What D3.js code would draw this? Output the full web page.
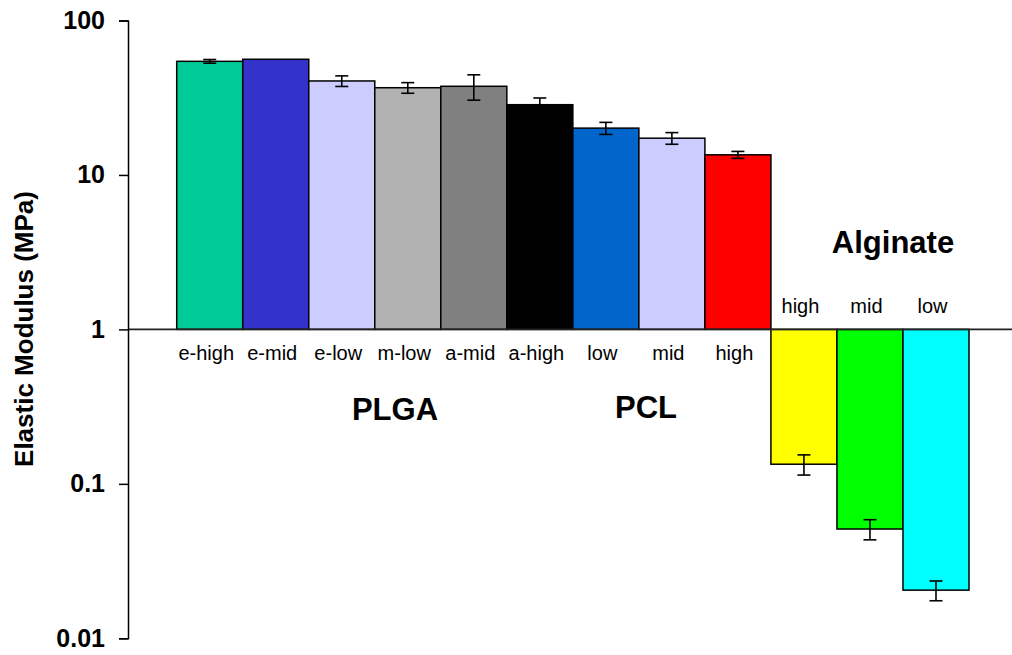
<!DOCTYPE html>
<html>
<head>
<meta charset="utf-8">
<script src="https://cdn.jsdelivr.net/npm/d3@7"></script>
<style>
  html, body { margin: 0; padding: 0; background: #fff; }
  svg { display: block; font-family: Arial, "Liberation Sans", sans-serif; }
</style>
</head>
<body>
<svg id="chart" width="1012" height="655"></svg>
<script>
// ---- data ----
const categoryIds = ["plga-e-high","plga-e-mid","plga-e-low","plga-m-low","plga-a-mid","plga-a-high",
                     "pcl-low","pcl-mid","pcl-high","alg-high","alg-mid","alg-low"];
const categoryLabels = ["e-high","e-mid","e-low","m-low","a-mid","a-high","low","mid","high","high","mid","low"];
const modulusValues = [54.4, 56.1, 40.6, 36.7, 37.5, 28.5, 20.1, 17.3, 13.5, 0.134, 0.051, 0.0205];
const modulusErrors = [1.5, 0, 3.2, 2.9, 7.0, 3.0, 1.8, 1.5, 0.7, 0.02, 0.0076, 0.003];
const barColors = ["#00CC99","#3333CC","#CCCCFF","#B2B2B2","#808080","#000000",
                   "#0066CC","#CCCCFF","#FF0000","#FFFF00","#00FF00","#00FFFF"];
const groupNames = ["PLGA","PCL","Alginate"];
const yTickValues = [0.01, 0.1, 1, 10, 100];
const yTickLabels = ["0.01","0.1","1","10","100"];
const yAxisTitle = "Elastic Modulus (MPa)";

// ---- scales ----
const svg = d3.select("#chart");
const x = d3.scaleBand().domain(categoryIds).range([176.7, 969]).padding(0);
const y = d3.scaleLog().domain([0.01, 100]).range([638.3, 20.5]);
const base = y(1);

// ---- bars ----
const data = categoryIds.map((id, i) => ({
  id, label: categoryLabels[i], v: modulusValues[i], e: modulusErrors[i], c: barColors[i]
}));

svg.append("g").selectAll("rect").data(data).join("rect")
  .attr("x", d => x(d.id))
  .attr("width", x.bandwidth())
  .attr("y", d => Math.min(y(d.v), base))
  .attr("height", d => Math.abs(y(d.v) - base))
  .attr("fill", d => d.c)
  .attr("stroke", "#000")
  .attr("stroke-width", 1.5);

// ---- error bars ----
const eg = svg.append("g").attr("stroke", "#000").attr("stroke-width", 1.6);
data.filter(d => d.e > 0).forEach(d => {
  const cx = x(d.id) + x.bandwidth() / 2;
  const y1 = y(d.v + d.e), y2 = y(d.v - d.e);
  eg.append("line").attr("x1", cx).attr("x2", cx).attr("y1", y1).attr("y2", y2);
  eg.append("line").attr("x1", cx - 6.5).attr("x2", cx + 6.5).attr("y1", y1).attr("y2", y1);
  eg.append("line").attr("x1", cx - 6.5).attr("x2", cx + 6.5).attr("y1", y2).attr("y2", y2);
});

// ---- baseline at 1 ----
svg.append("line")
  .attr("x1", 128).attr("x2", 1012)
  .attr("y1", base).attr("y2", base)
  .attr("stroke", "#222").attr("stroke-width", 1.6);

// ---- y axis ----
const yAxis = d3.axisLeft(y)
  .tickValues(yTickValues)
  .tickFormat((d, i) => yTickLabels[i])
  .tickSize(9)
  .tickPadding(14);
const ga = svg.append("g").attr("transform", "translate(128,0)").call(yAxis);
ga.select(".domain").attr("stroke", "#000").attr("stroke-width", 1.5);
ga.selectAll(".tick line").attr("stroke", "#000").attr("stroke-width", 1.5);
ga.selectAll(".tick text")
  .attr("font-family", "Arial, 'Liberation Sans', sans-serif")
  .attr("font-size", 25).attr("font-weight", "bold").attr("fill", "#000");

svg.append("text")
  .attr("transform", "translate(33,329) rotate(-90)")
  .attr("text-anchor", "middle")
  .attr("font-size", 26).attr("font-weight", "bold")
  .text(yAxisTitle);

// ---- category labels ----
svg.append("g").selectAll("text").data(data).join("text")
  .attr("x", d => x(d.id) + x.bandwidth() / 2 - 3.5)
  .attr("y", d => d.v >= 1 ? 360 : 312.7)
  .attr("text-anchor", "middle")
  .attr("font-size", 20)
  .attr("fill", "#000")
  .text(d => d.label);

// ---- group titles ----
const groupPos = [[395, 420], [646, 418.3], [893, 252.5]];
svg.append("g").selectAll("text").data(groupNames).join("text")
  .attr("x", (d, i) => groupPos[i][0])
  .attr("y", (d, i) => groupPos[i][1])
  .attr("text-anchor", "middle")
  .attr("font-size", 31).attr("font-weight", "bold")
  .text(d => d);
</script>
</body>
</html>
